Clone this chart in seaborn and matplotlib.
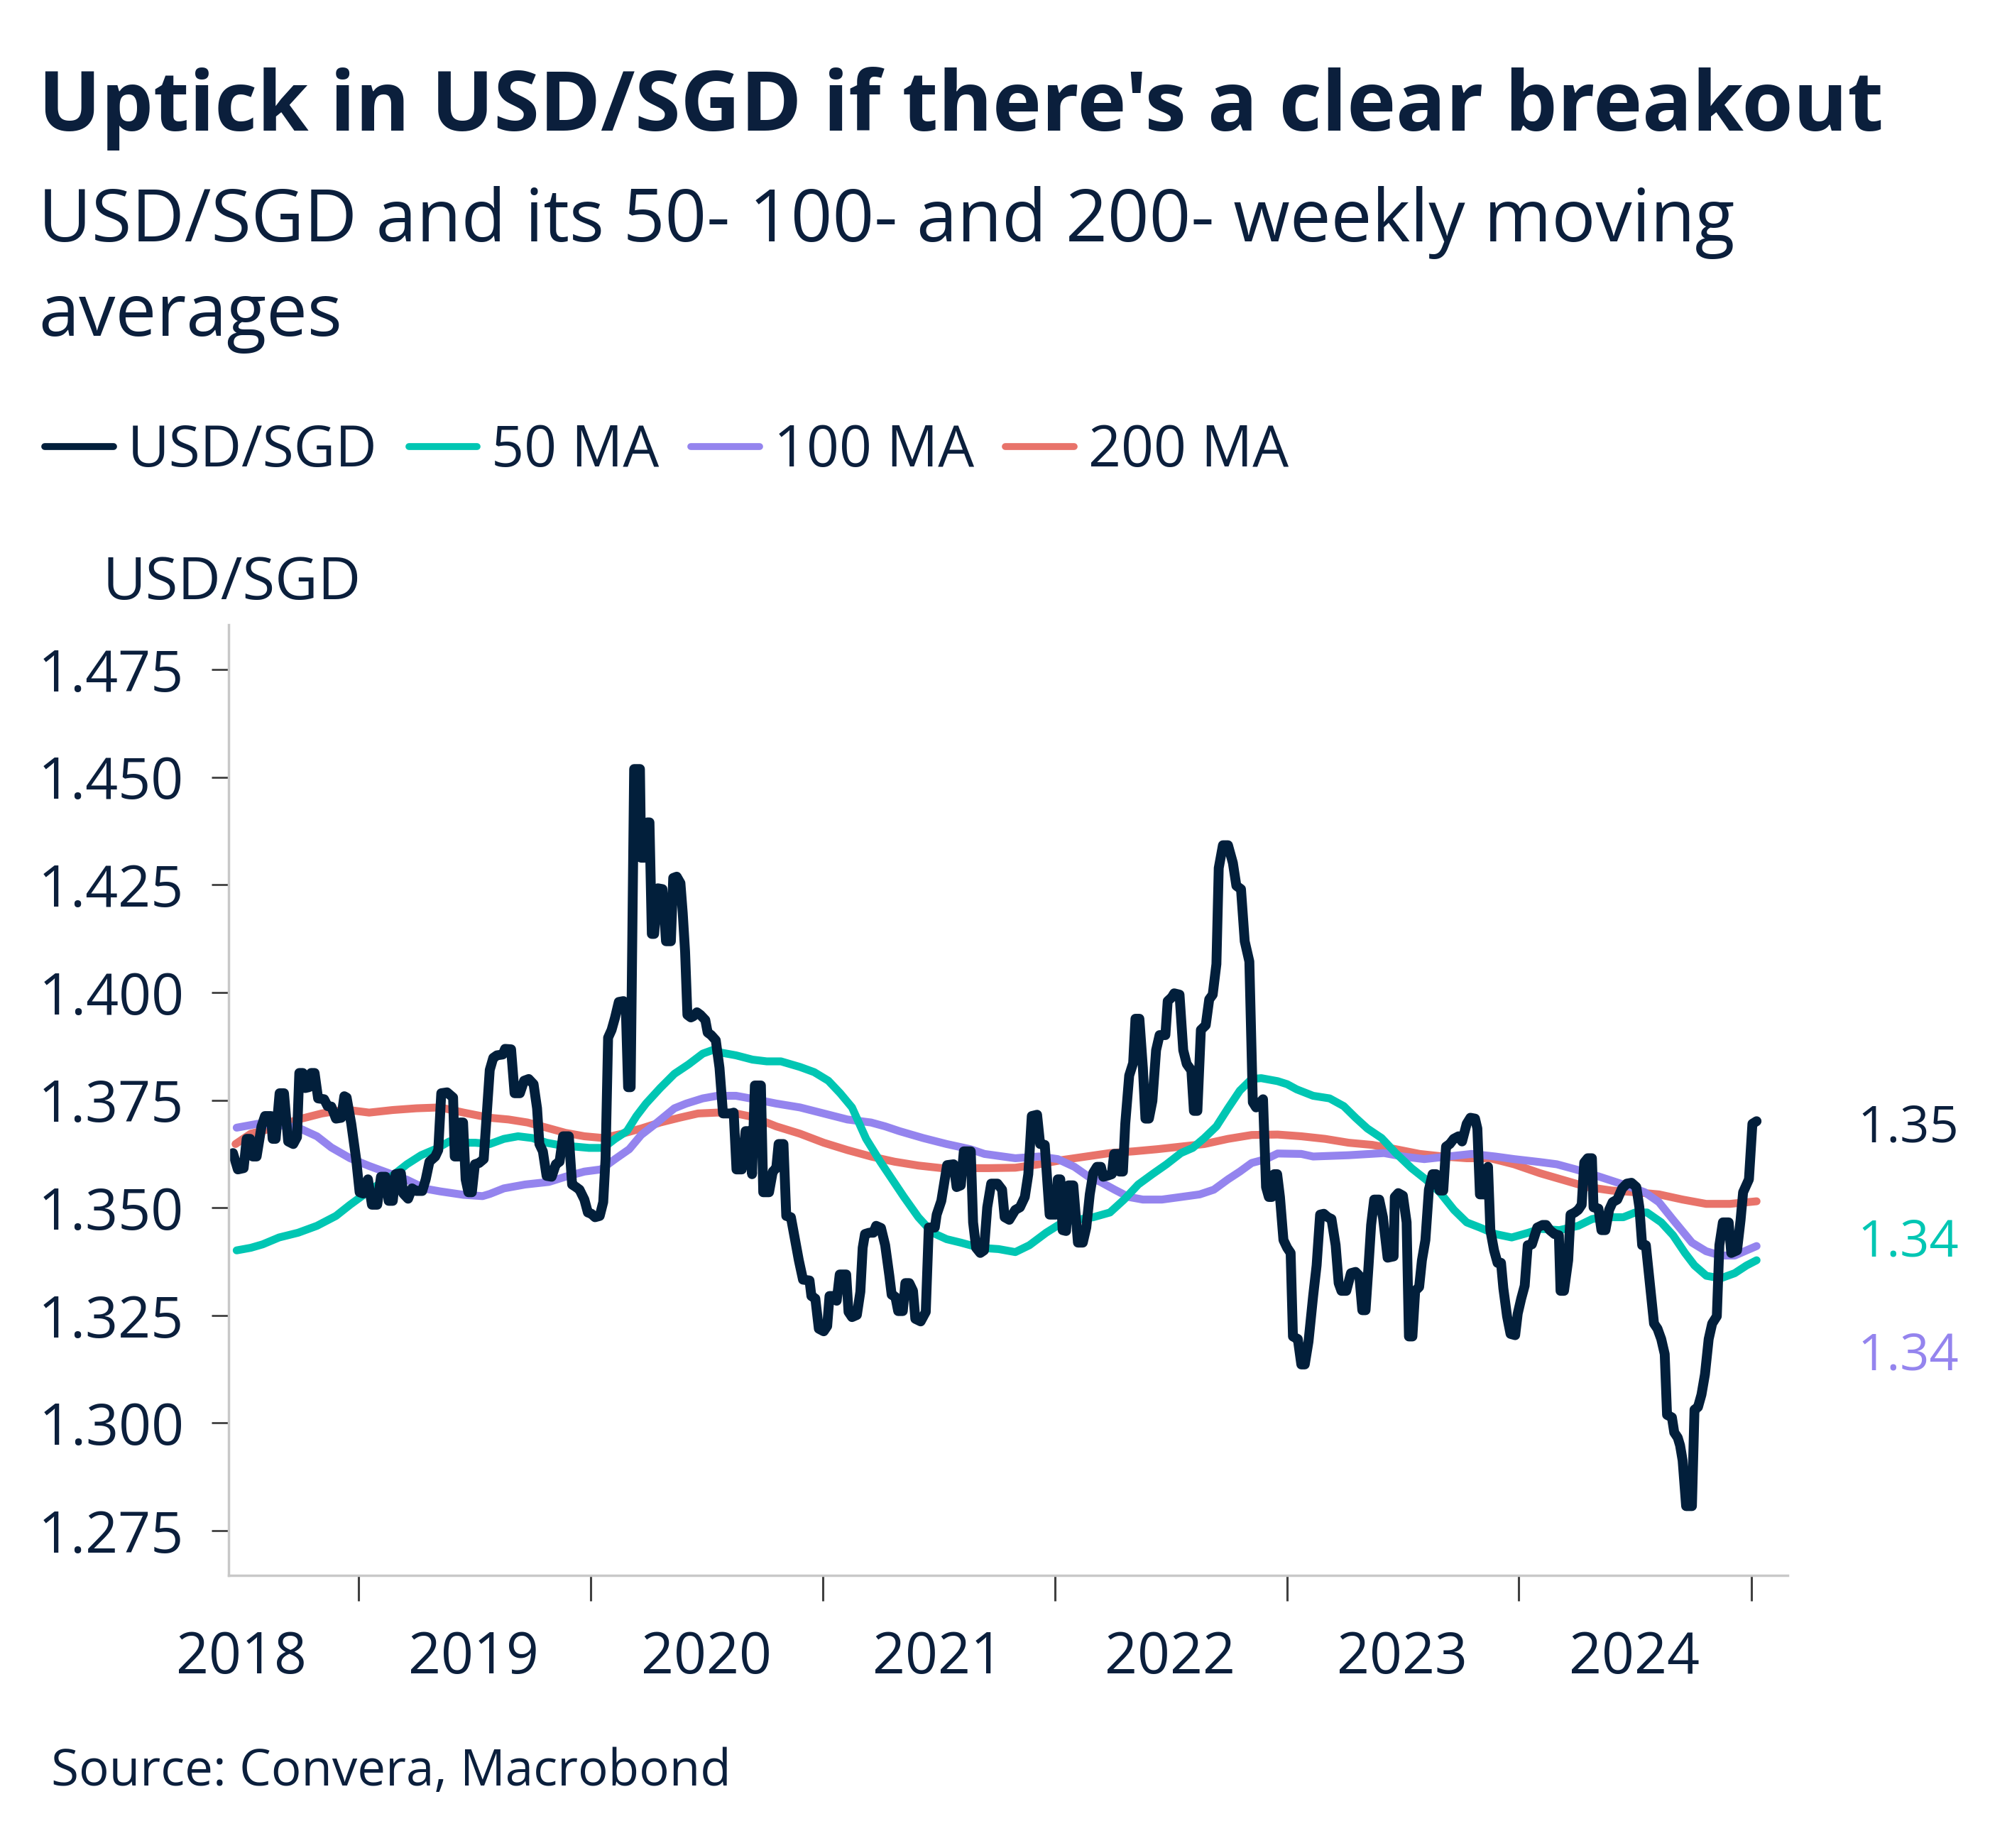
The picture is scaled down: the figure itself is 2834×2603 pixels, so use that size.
import numpy as np
import pandas as pd
import matplotlib.pyplot as plt
import matplotlib.dates as mdates
import seaborn as sns

# weekly USD/SGD (decimal year, rate)
usd_t = [2018.459, 2018.480, 2018.505, 2018.518, 2018.533, 2018.544, 2018.561, 2018.582, 2018.597, 2018.623,
         2018.630, 2018.643, 2018.660, 2018.679, 2018.697, 2018.719, 2018.735, 2018.745, 2018.760, 2018.770,
         2018.786, 2018.796, 2018.811, 2018.826, 2018.852, 2018.867, 2018.883, 2018.903, 2018.926, 2018.939,
         2018.949, 2018.969, 2018.990, 2019.005, 2019.020, 2019.041, 2019.058, 2019.081, 2019.097, 2019.117,
         2019.130, 2019.148, 2019.160, 2019.183, 2019.193, 2019.214, 2019.231, 2019.249, 2019.275, 2019.290,
         2019.306, 2019.331, 2019.344, 2019.357, 2019.382, 2019.408, 2019.415, 2019.431, 2019.438, 2019.451,
         2019.462, 2019.474, 2019.489, 2019.502, 2019.520, 2019.540, 2019.566, 2019.581, 2019.597, 2019.622,
         2019.632, 2019.658, 2019.673, 2019.696, 2019.714, 2019.734, 2019.755, 2019.770, 2019.780, 2019.795,
         2019.811, 2019.833, 2019.851, 2019.867, 2019.882, 2019.907, 2019.921, 2019.938, 2019.953, 2019.974,
         2019.989, 2020.004, 2020.020, 2020.040, 2020.055, 2020.065, 2020.076, 2020.091, 2020.106, 2020.122,
         2020.142, 2020.152, 2020.162, 2020.173, 2020.188, 2020.213, 2020.218, 2020.234, 2020.244, 2020.254,
         2020.264, 2020.274, 2020.290, 2020.310, 2020.325, 2020.346, 2020.356, 2020.371, 2020.387, 2020.397,
         2020.407, 2020.417, 2020.432, 2020.443, 2020.458, 2020.473, 2020.494, 2020.504, 2020.519, 2020.539,
         2020.555, 2020.570, 2020.590, 2020.606, 2020.616, 2020.628, 2020.651, 2020.667, 2020.682, 2020.695,
         2020.707, 2020.733, 2020.743, 2020.768, 2020.784, 2020.799, 2020.809, 2020.830, 2020.842, 2020.862,
         2020.878, 2020.896, 2020.914, 2020.942, 2020.950, 2020.967, 2020.982, 2021.003, 2021.018, 2021.028,
         2021.044, 2021.059, 2021.072, 2021.100, 2021.110, 2021.125, 2021.146, 2021.161, 2021.171, 2021.181,
         2021.199, 2021.217, 2021.229, 2021.250, 2021.268, 2021.286, 2021.296, 2021.312, 2021.324, 2021.344,
         2021.355, 2021.372, 2021.388, 2021.398, 2021.421, 2021.443, 2021.456, 2021.482, 2021.490, 2021.510,
         2021.535, 2021.563, 2021.576, 2021.594, 2021.607, 2021.637, 2021.647, 2021.660, 2021.678, 2021.694,
         2021.708, 2021.725, 2021.752, 2021.772, 2021.783, 2021.803, 2021.829, 2021.849, 2021.870, 2021.885,
         2021.900, 2021.923, 2021.936, 2021.956, 2021.977, 2022.004, 2022.012, 2022.023, 2022.033, 2022.048,
         2022.058, 2022.079, 2022.099, 2022.120, 2022.135, 2022.150, 2022.165, 2022.181, 2022.198, 2022.208,
         2022.229, 2022.245, 2022.255, 2022.272, 2022.278, 2022.293, 2022.303, 2022.320, 2022.337, 2022.347,
         2022.364, 2022.379, 2022.390, 2022.405, 2022.420, 2022.436, 2022.451, 2022.476, 2022.486, 2022.504,
         2022.514, 2022.537, 2022.553, 2022.568, 2022.588, 2022.599, 2022.614, 2022.629, 2022.650, 2022.665,
         2022.680, 2022.696, 2022.706, 2022.724, 2022.746, 2022.767, 2022.782, 2022.802, 2022.818, 2022.838,
         2022.853, 2022.867, 2022.897, 2022.910, 2022.922, 2022.935, 2022.945, 2022.958, 2022.970, 2022.985,
         2023.001, 2023.016, 2023.026, 2023.047, 2023.062, 2023.077, 2023.093, 2023.113, 2023.128, 2023.143,
         2023.159, 2023.176, 2023.192, 2023.210, 2023.223, 2023.235, 2023.256, 2023.276, 2023.296, 2023.312,
         2023.325, 2023.339, 2023.352, 2023.363, 2023.376, 2023.398, 2023.414, 2023.434, 2023.460, 2023.465,
         2023.480, 2023.500, 2023.516, 2023.526, 2023.541, 2023.553, 2023.570, 2023.582, 2023.597, 2023.612,
         2023.628, 2023.643, 2023.658, 2023.674, 2023.686, 2023.702, 2023.719, 2023.740, 2023.755, 2023.775,
         2023.791, 2023.811, 2023.821, 2023.832, 2023.857, 2023.867, 2023.877, 2023.893, 2023.908, 2023.923,
         2023.933, 2023.949, 2023.964, 2023.984, 2023.995, 2024.010, 2024.025, 2024.038, 2024.056, 2024.079,
         2024.102, 2024.117, 2024.133, 2024.153, 2024.172, 2024.179, 2024.194, 2024.212, 2024.222, 2024.240,
         2024.255, 2024.270, 2024.281, 2024.296, 2024.314, 2024.321, 2024.342, 2024.355, 2024.372, 2024.388,
         2024.403, 2024.423, 2024.444, 2024.464, 2024.484, 2024.505, 2024.518, 2024.530, 2024.546, 2024.581,
         2024.596, 2024.612, 2024.627, 2024.637, 2024.658, 2024.668, 2024.683, 2024.693, 2024.704, 2024.719,
         2024.744, 2024.755, 2024.770, 2024.785, 2024.800, 2024.816, 2024.831, 2024.851, 2024.862, 2024.877,
         2024.902, 2024.913, 2024.938, 2024.953, 2024.964, 2024.979, 2024.989, 2025.004, 2025.022]
usd_v = [1.3627, 1.3589, 1.3592, 1.3660, 1.3660, 1.3619, 1.3619, 1.3689, 1.3713, 1.3713,
         1.3660, 1.3660, 1.3766, 1.3766, 1.3654, 1.3648, 1.3664, 1.3813, 1.3813, 1.3778,
         1.3780, 1.3813, 1.3813, 1.3754, 1.3752, 1.3736, 1.3735, 1.3707, 1.3709, 1.3759,
         1.3756, 1.3695, 1.3613, 1.3536, 1.3533, 1.3566, 1.3507, 1.3507, 1.3572, 1.3572,
         1.3516, 1.3516, 1.3578, 1.3580, 1.3533, 1.3521, 1.3545, 1.3539, 1.3539, 1.3566,
         1.3607, 1.3619, 1.3634, 1.3766, 1.3768, 1.3756, 1.3619, 1.3619, 1.3698, 1.3698,
         1.3566, 1.3536, 1.3536, 1.3601, 1.3604, 1.3613, 1.3820, 1.3848, 1.3854, 1.3856,
         1.3869, 1.3868, 1.3766, 1.3766, 1.3795, 1.3799, 1.3787, 1.3731, 1.3648, 1.3631,
         1.3574, 1.3572, 1.3601, 1.3607, 1.3666, 1.3666, 1.3554, 1.3548, 1.3542, 1.3519,
         1.3489, 1.3486, 1.3478, 1.3481, 1.3513, 1.3613, 1.3895, 1.3913, 1.3942, 1.3978,
         1.3980, 1.3966, 1.3780, 1.3780, 1.4519, 1.4519, 1.4313, 1.4313, 1.4395, 1.4395,
         1.4136, 1.4136, 1.4242, 1.4240, 1.4119, 1.4119, 1.4266, 1.4269, 1.4254, 1.4184,
         1.4095, 1.3948, 1.3942, 1.3945, 1.3954, 1.3948, 1.3936, 1.3907, 1.3901, 1.3889,
         1.3825, 1.3719, 1.3719, 1.3719, 1.3721, 1.3589, 1.3589, 1.3678, 1.3678, 1.3578,
         1.3784, 1.3784, 1.3536, 1.3536, 1.3584, 1.3592, 1.3648, 1.3648, 1.3481, 1.3478,
         1.3431, 1.3378, 1.3333, 1.3331, 1.3295, 1.3289, 1.3219, 1.3213, 1.3225, 1.3295,
         1.3295, 1.3284, 1.3345, 1.3345, 1.3258, 1.3246, 1.3251, 1.3305, 1.3407, 1.3439,
         1.3442, 1.3442, 1.3458, 1.3453, 1.3413, 1.3342, 1.3298, 1.3293, 1.3260, 1.3260,
         1.3325, 1.3325, 1.3307, 1.3242, 1.3236, 1.3258, 1.3454, 1.3454, 1.3484, 1.3516,
         1.3599, 1.3601, 1.3548, 1.3552, 1.3631, 1.3631, 1.3466, 1.3407, 1.3395, 1.3401,
         1.3501, 1.3556, 1.3556, 1.3542, 1.3478, 1.3472, 1.3495, 1.3501, 1.3525, 1.3578,
         1.3713, 1.3716, 1.3648, 1.3646, 1.3484, 1.3484, 1.3566, 1.3566, 1.3448, 1.3446,
         1.3552, 1.3552, 1.3419, 1.3419, 1.3454, 1.3531, 1.3581, 1.3595, 1.3595, 1.3572,
         1.3575, 1.3578, 1.3625, 1.3625, 1.3584, 1.3584, 1.3695, 1.3807, 1.3836, 1.3939,
         1.3939, 1.3825, 1.3707, 1.3707, 1.3748, 1.3866, 1.3901, 1.3901, 1.3980, 1.3989,
         1.3998, 1.3995, 1.3866, 1.3834, 1.3819, 1.3725, 1.3725, 1.3913, 1.3924, 1.3984,
         1.3995, 1.4066, 1.4289, 1.4342, 1.4342, 1.4301, 1.4248, 1.4240, 1.4119, 1.4072,
         1.3745, 1.3733, 1.3752, 1.3548, 1.3525, 1.3525, 1.3578, 1.3578, 1.3525, 1.3425,
         1.3407, 1.3395, 1.3201, 1.3195, 1.3136, 1.3136, 1.3189, 1.3295, 1.3366, 1.3484,
         1.3486, 1.3478, 1.3474, 1.3413, 1.3325, 1.3307, 1.3307, 1.3348, 1.3351, 1.3342,
         1.3262, 1.3262, 1.3366, 1.3460, 1.3519, 1.3519, 1.3478, 1.3384, 1.3387, 1.3525,
         1.3534, 1.3528, 1.3466, 1.3201, 1.3201, 1.3307, 1.3316, 1.3378, 1.3425, 1.3542,
         1.3578, 1.3578, 1.3540, 1.3540, 1.3642, 1.3648, 1.3660, 1.3666, 1.3654, 1.3695,
         1.3709, 1.3707, 1.3684, 1.3531, 1.3531, 1.3595, 1.3448, 1.3401, 1.3372, 1.3372,
         1.3313, 1.3248, 1.3207, 1.3204, 1.3254, 1.3289, 1.3319, 1.3413, 1.3415, 1.3454,
         1.3460, 1.3460, 1.3448, 1.3439, 1.3436, 1.3307, 1.3307, 1.3378, 1.3484, 1.3489,
         1.3495, 1.3507, 1.3605, 1.3615, 1.3615, 1.3501, 1.3498, 1.3448, 1.3448, 1.3495,
         1.3513, 1.3519, 1.3545, 1.3556, 1.3558, 1.3548, 1.3501, 1.3413, 1.3413, 1.3231,
         1.3219, 1.3195, 1.3160, 1.3019, 1.3013, 1.2978, 1.2966, 1.2948, 1.2913, 1.2807,
         1.2807, 1.3031, 1.3037, 1.3066, 1.3113, 1.3195, 1.3231, 1.3248, 1.3413, 1.3466,
         1.3466, 1.3395, 1.3401, 1.3471, 1.3536, 1.3554, 1.3566, 1.3695, 1.3701]

ma50_t = [2018.475, 2018.536, 2018.587, 2018.658, 2018.740, 2018.821, 2018.903, 2018.964, 2019.025, 2019.086,
          2019.148, 2019.209, 2019.270, 2019.331, 2019.392, 2019.453, 2019.504, 2019.566, 2019.627, 2019.688,
          2019.749, 2019.811, 2019.872, 2019.933, 2019.994, 2020.055, 2020.106, 2020.157, 2020.198, 2020.239,
          2020.300, 2020.361, 2020.422, 2020.483, 2020.524, 2020.565, 2020.626, 2020.697, 2020.758, 2020.819,
          2020.901, 2020.962, 2021.023, 2021.074, 2021.125, 2021.186, 2021.247, 2021.298, 2021.349, 2021.411,
          2021.472, 2021.533, 2021.594, 2021.676, 2021.757, 2021.829, 2021.890, 2021.962, 2022.033, 2022.094,
          2022.165, 2022.237, 2022.298, 2022.359, 2022.420, 2022.481, 2022.543, 2022.594, 2022.644, 2022.696,
          2022.746, 2022.797, 2022.848, 2022.889, 2022.960, 2023.001, 2023.042, 2023.113, 2023.184, 2023.245,
          2023.296, 2023.347, 2023.408, 2023.469, 2023.537, 2023.598, 2023.659, 2023.720, 2023.775, 2023.832,
          2023.898, 2023.969, 2024.041, 2024.092, 2024.174, 2024.255, 2024.316, 2024.388, 2024.449, 2024.500,
          2024.551, 2024.612, 2024.663, 2024.714, 2024.755, 2024.806, 2024.867, 2024.928, 2024.979, 2025.022]
ma50_v = [1.3401, 1.3407, 1.3415, 1.3431, 1.3442, 1.3458, 1.3481, 1.3507, 1.3531, 1.3554,
          1.3575, 1.3601, 1.3622, 1.3636, 1.3654, 1.3651, 1.3651, 1.3648, 1.3660, 1.3666,
          1.3662, 1.3651, 1.3645, 1.3642, 1.3639, 1.3639, 1.3660, 1.3678, 1.3713, 1.3742,
          1.3778, 1.3811, 1.3833, 1.3858, 1.3866, 1.3860, 1.3854, 1.3844, 1.3840, 1.3840,
          1.3827, 1.3815, 1.3795, 1.3766, 1.3733, 1.3660, 1.3607, 1.3566, 1.3525, 1.3478,
          1.3442, 1.3427, 1.3419, 1.3407, 1.3404, 1.3397, 1.3413, 1.3442, 1.3466, 1.3472,
          1.3478, 1.3489, 1.3519, 1.3554, 1.3578, 1.3601, 1.3627, 1.3639, 1.3662, 1.3689,
          1.3731, 1.3772, 1.3799, 1.3801, 1.3794, 1.3787, 1.3775, 1.3760, 1.3754, 1.3736,
          1.3709, 1.3684, 1.3662, 1.3627, 1.3592, 1.3566, 1.3536, 1.3495, 1.3466, 1.3454,
          1.3439, 1.3431, 1.3442, 1.3451, 1.3448, 1.3458, 1.3474, 1.3478, 1.3478, 1.3489,
          1.3489, 1.3466, 1.3436, 1.3395, 1.3366, 1.3342, 1.3336, 1.3348, 1.3366, 1.3378]

ma100_t = [2018.475, 2018.566, 2018.658, 2018.740, 2018.821, 2018.883, 2018.964, 2019.046, 2019.127, 2019.209,
           2019.290, 2019.352, 2019.453, 2019.535, 2019.566, 2019.627, 2019.719, 2019.821, 2019.892, 2019.974,
           2020.045, 2020.106, 2020.167, 2020.218, 2020.280, 2020.361, 2020.412, 2020.483, 2020.545, 2020.626,
           2020.697, 2020.799, 2020.901, 2021.003, 2021.105, 2021.207, 2021.268, 2021.329, 2021.431, 2021.533,
           2021.635, 2021.696, 2021.829, 2021.931, 2022.012, 2022.084, 2022.145, 2022.196, 2022.257, 2022.318,
           2022.379, 2022.461, 2022.543, 2022.624, 2022.685, 2022.746, 2022.797, 2022.848, 2022.910, 2022.960,
           2023.062, 2023.113, 2023.266, 2023.419, 2023.500, 2023.592, 2023.694, 2023.796, 2023.898, 2023.979,
           2024.092, 2024.163, 2024.245, 2024.347, 2024.449, 2024.541, 2024.602, 2024.663, 2024.744, 2024.805,
           2024.867, 2024.928, 2024.979, 2025.022]
ma100_v = [1.3686, 1.3695, 1.3692, 1.3686, 1.3666, 1.3640, 1.3615, 1.3597, 1.3581, 1.3565,
           1.3544, 1.3538, 1.3530, 1.3527, 1.3532, 1.3545, 1.3554, 1.3560, 1.3572, 1.3584,
           1.3589, 1.3613, 1.3636, 1.3669, 1.3695, 1.3731, 1.3742, 1.3754, 1.3760, 1.3760,
           1.3753, 1.3742, 1.3733, 1.3719, 1.3705, 1.3698, 1.3689, 1.3678, 1.3662, 1.3648,
           1.3636, 1.3625, 1.3615, 1.3619, 1.3613, 1.3595, 1.3572, 1.3560, 1.3542, 1.3525,
           1.3519, 1.3519, 1.3525, 1.3531, 1.3542, 1.3566, 1.3584, 1.3604, 1.3613, 1.3626,
           1.3625, 1.3619, 1.3622, 1.3627, 1.3619, 1.3613, 1.3619, 1.3625, 1.3619, 1.3613,
           1.3606, 1.3601, 1.3589, 1.3572, 1.3554, 1.3536, 1.3513, 1.3472, 1.3419, 1.3399,
           1.3389, 1.3389, 1.3401, 1.3411]

ma200_t = [2018.470, 2018.536, 2018.638, 2018.740, 2018.842, 2018.944, 2019.046, 2019.148, 2019.250, 2019.352,
           2019.453, 2019.566, 2019.647, 2019.729, 2019.811, 2019.892, 2019.974, 2020.055, 2020.137, 2020.218,
           2020.300, 2020.382, 2020.463, 2020.545, 2020.626, 2020.697, 2020.799, 2020.901, 2021.003, 2021.105,
           2021.207, 2021.308, 2021.411, 2021.512, 2021.614, 2021.716, 2021.829, 2021.931, 2022.033, 2022.135,
           2022.237, 2022.339, 2022.441, 2022.543, 2022.644, 2022.746, 2022.848, 2022.960, 2023.062, 2023.164,
           2023.266, 2023.368, 2023.469, 2023.572, 2023.674, 2023.775, 2023.877, 2023.979, 2024.092, 2024.194,
           2024.296, 2024.398, 2024.500, 2024.602, 2024.704, 2024.805, 2024.907, 2025.022]
ma200_v = [1.3648, 1.3672, 1.3686, 1.3705, 1.3719, 1.3728, 1.3721, 1.3727, 1.3731, 1.3733,
           1.3721, 1.3709, 1.3705, 1.3698, 1.3686, 1.3674, 1.3666, 1.3662, 1.3672, 1.3684,
           1.3698, 1.3709, 1.3719, 1.3721, 1.3719, 1.3711, 1.3689, 1.3672, 1.3651, 1.3634,
           1.3619, 1.3607, 1.3598, 1.3592, 1.3592, 1.3592, 1.3593, 1.3601, 1.3611, 1.3619,
           1.3627, 1.3631, 1.3636, 1.3642, 1.3648, 1.3660, 1.3669, 1.3670, 1.3666, 1.3660,
           1.3651, 1.3646, 1.3636, 1.3625, 1.3619, 1.3615, 1.3615, 1.3601, 1.3580, 1.3564,
           1.3548, 1.3540, 1.3536, 1.3531, 1.3519, 1.3509, 1.3509, 1.3515]

yticks = [1.275, 1.300, 1.325, 1.350, 1.375, 1.400, 1.425, 1.450, 1.475]
end_labels = ['1.35', '1.34', '1.34']


def to_date(t):
    y = int(t)
    start = pd.Timestamp(year=y, month=1, day=1)
    end = pd.Timestamp(year=y + 1, month=1, day=1)
    return start + (t - y) * (end - start)


navy = '#0B1F3C'
black_line = '#021F3B'
teal = '#00C6B3'
purple = '#9484EE'
red = '#E8736A'

sns.set_style('white')
plt.rcParams['font.family'] = ['Open Sans', 'DejaVu Sans']

fig = plt.figure(figsize=(28.34, 26.03), dpi=100)
ax = fig.add_axes([0.1136, 0.1475, 0.7749, 0.5144])

series = [(ma200_t, ma200_v, '200 MA', red, 8),
          (ma100_t, ma100_v, '100 MA', purple, 8),
          (ma50_t, ma50_v, '50 MA', teal, 8),
          (usd_t, usd_v, 'USD/SGD', black_line, 10)]
for t, v, name, col, lw in series:
    df = pd.DataFrame({'date': [to_date(x) for x in t], 'value': v})
    sns.lineplot(data=df, x='date', y='value', ax=ax, color=col, linewidth=lw,
                 label=name, estimator=None, sort=False)

ax.set_xlim(to_date(2018.440), to_date(2025.156))
ax.set_ylim(1.2646, 1.4854)
ax.set_yticks(yticks)
ax.set_yticklabels([f'{y:.3f}' for y in yticks])
ax.set_xlabel('')
ax.set_ylabel('')

ax.xaxis.set_major_locator(mdates.YearLocator())
ax.xaxis.set_major_formatter(plt.NullFormatter())
ax.xaxis.set_minor_locator(mdates.MonthLocator(bymonth=7))
ax.xaxis.set_minor_formatter(mdates.DateFormatter('%Y'))
ax.tick_params(axis='x', which='major', direction='out', length=26, width=2.2, color='#404040', bottom=True)
ax.tick_params(axis='x', which='minor', length=0, pad=55, labelsize=58, labelcolor=navy)
ax.tick_params(axis='y', which='major', direction='out', length=17, width=2, color='#404040',
               left=True, pad=28, labelsize=58, labelcolor=navy)

for s in ['top', 'right']:
    ax.spines[s].set_visible(False)
for s in ['left', 'bottom']:
    ax.spines[s].set_color('#C8C8C8')
    ax.spines[s].set_linewidth(2.5)

# legend in order of the reference
hs, ls = ax.get_legend_handles_labels()
order = [ls.index(n) for n in ['USD/SGD', '50 MA', '100 MA', '200 MA']]
leg = ax.legend([hs[i] for i in order], [ls[i] for i in order], loc='center left',
                bbox_to_anchor=(0.0222, 0.7557), bbox_transform=fig.transFigure, ncol=4,
                frameon=False, fontsize=58, handlelength=1.2, handletextpad=0.25,
                columnspacing=0.55, borderpad=0, borderaxespad=0, labelcolor=navy)
for line in leg.get_lines():
    line.set_linewidth(7)

fig.text(0.019, 0.9293, "Uptick in USD/SGD if there's a clear breakout", fontsize=84,
         fontweight='bold', color=navy, va='baseline')
fig.text(0.019, 0.8694, 'USD/SGD and its 50- 100- and 200- weekly moving', fontsize=74,
         color=navy, va='baseline')
fig.text(0.019, 0.8182, 'averages', fontsize=74, color=navy, va='baseline')
fig.text(0.0511, 0.6758, 'USD/SGD', fontsize=60, color=navy, va='baseline')
fig.text(0.0254, 0.0338, 'Source: Convera, Macrobond', fontsize=51, color=navy, va='baseline')

for lab, col, yy in zip(end_labels, [navy, teal, purple], [0.470, 0.350, 0.230]):
    ax.text(1.045, yy, lab, transform=ax.transAxes, va='center', ha='left', fontsize=52, color=col)

fig.savefig('out.png', dpi=100)
